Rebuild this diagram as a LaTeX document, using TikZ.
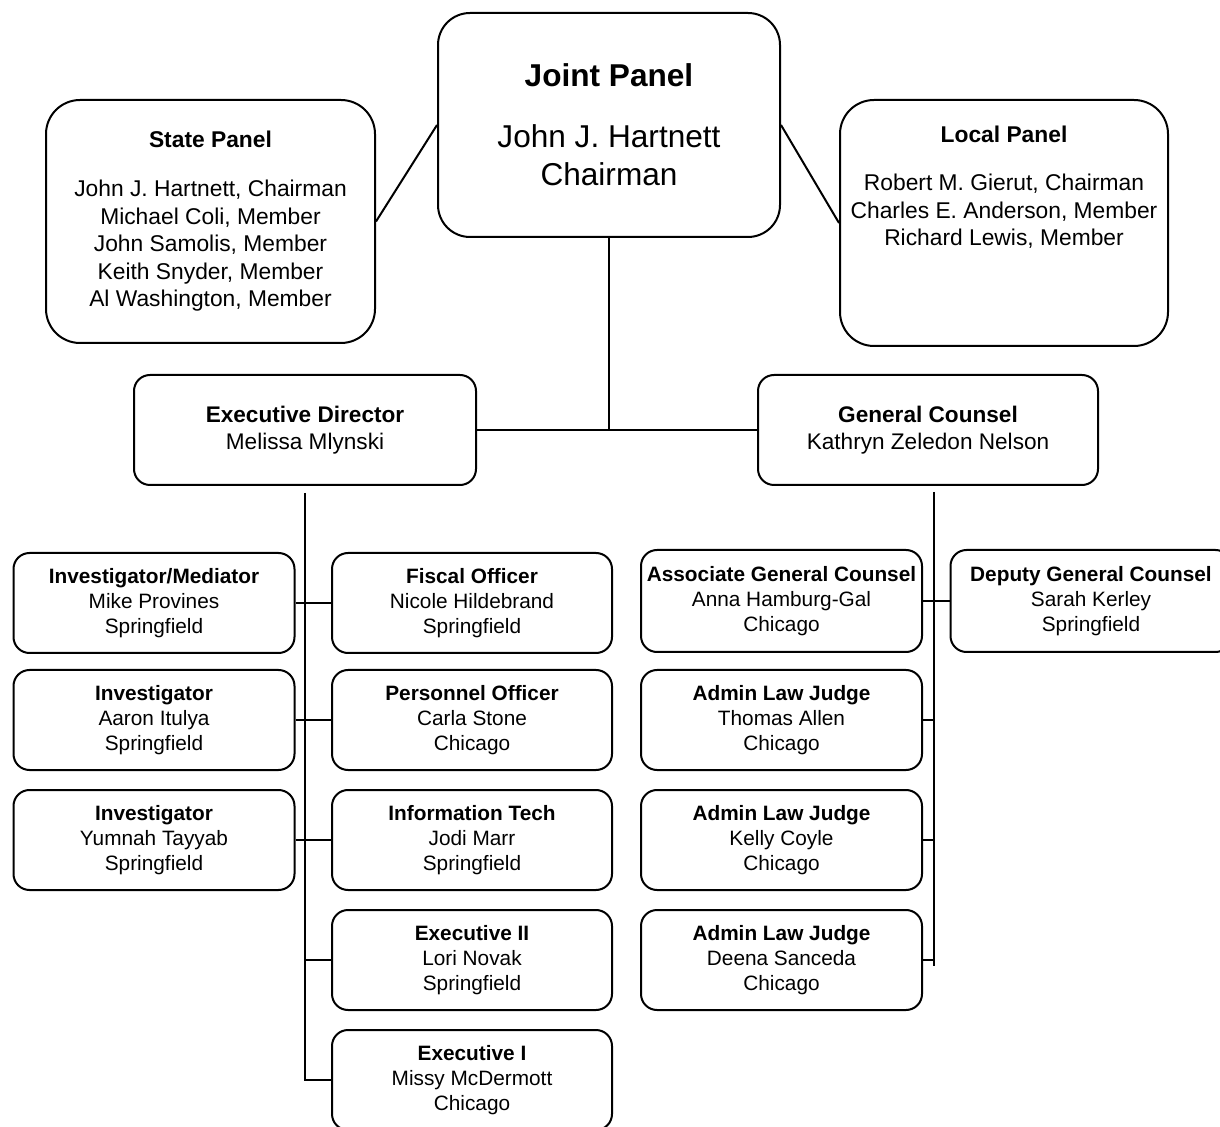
\documentclass[tikz,border=0pt]{standalone}
\usepackage{fontspec}
\setmainfont{Liberation Sans}
\usetikzlibrary{calc}

\tikzset{
  panel/.style={draw, line width=1pt, rounded corners=17pt, align=center, inner sep=0pt},
  head/.style={draw, line width=1pt, rounded corners=8pt, align=center, inner sep=0pt,
    minimum width=170pt, minimum height=55pt, font=\fontsize{11.3}{13.5}\selectfont},
  unit/.style={draw, line width=1pt, rounded corners=8pt, align=center, inner sep=0pt,
    minimum width=140.5pt, minimum height=50pt, font=\fontsize{10.4}{12.5}\selectfont},
  link/.style={line width=1pt}
}

\begin{document}
\begin{tikzpicture}[x=0.5pt, y=-0.5pt]
  \useasboundingbox (0,0) rectangle (1220,1127);

  % panels
  \node[panel, minimum width=171pt, minimum height=112pt, rounded corners=16pt,
    font=\fontsize{15.8}{19}\selectfont] (joint) at (609,125)
    {\textbf{Joint Panel}\\[11.5pt] John J. Hartnett\\ Chairman};
  \node[panel, minimum width=164.5pt, minimum height=121.5pt,
    font=\fontsize{11.4}{13.75}\selectfont] (state) at (210.5,221.5)
    {\textbf{State Panel}\\[10.75pt] John J. Hartnett, Chairman\\ Michael Coli, Member\\
     John Samolis, Member\\ Keith Snyder, Member\\ Al Washington, Member};
  \node[panel, minimum width=164pt, minimum height=123pt] (local) at (1004,223) {};
  \node[align=center, inner sep=0pt, font=\fontsize{11.4}{13.75}\selectfont] (localtext) at (1004,187)
    {\textbf{Local Panel}\\[10.5pt] Robert M. Gierut, Chairman\\ Charles E. Anderson, Member\\
     Richard Lewis, Member};

  % heads
  \node[head, minimum width=171pt] (exec) at (305,430) {\textbf{Executive Director}\\ Melissa Mlynski};
  \node[head] (gc) at (928,430) {\textbf{General Counsel}\\ Kathryn Zeledon Nelson};

  % executive director staff
  \node[unit] (invmed) at (154,603) {\textbf{Investigator/Mediator}\\ Mike Provines\\ Springfield};
  \node[unit] (inva) at (154,720) {\textbf{Investigator}\\ Aaron Itulya\\ Springfield};
  \node[unit] (invb) at (154,840) {\textbf{Investigator}\\ Yumnah Tayyab\\ Springfield};
  \node[unit, minimum width=140pt] (fiscal) at (472,603) {\textbf{Fiscal Officer}\\ Nicole Hildebrand\\ Springfield};
  \node[unit, minimum width=140pt] (personnel) at (472,720) {\textbf{Personnel Officer}\\ Carla Stone\\ Chicago};
  \node[unit, minimum width=140pt] (infotech) at (472,840) {\textbf{Information Tech}\\ Jodi Marr\\ Springfield};
  \node[unit, minimum width=140pt] (execii) at (472,960) {\textbf{Executive II}\\ Lori Novak\\ Springfield};
  \node[unit, minimum width=140pt] (execi) at (472,1080) {\textbf{Executive I}\\ Missy McDermott\\ Chicago};

  % general counsel staff
  \node[unit, minimum height=51pt] (agc) at (781.5,601) {\textbf{Associate General Counsel}\\ Anna Hamburg-Gal\\ Chicago};
  \node[unit, minimum height=51pt] (dgc) at (1091,601) {\textbf{Deputy General Counsel}\\ Sarah Kerley\\ Springfield};
  \node[unit] (alja) at (781.5,720) {\textbf{Admin Law Judge}\\ Thomas Allen\\ Chicago};
  \node[unit] (aljb) at (781.5,840) {\textbf{Admin Law Judge}\\ Kelly Coyle\\ Chicago};
  \node[unit] (aljc) at (781.5,960) {\textbf{Admin Law Judge}\\ Deena Sanceda\\ Chicago};

  \coordinate (hub) at (609,430);
  \coordinate (edtop) at (305,493);
  \coordinate (edbot) at (305,1080);
  \coordinate (gctop) at (934,492);
  \coordinate (gcbot) at (934,966);

  % connectors
  \draw[link] (state.east) -- (joint.west);
  \draw[link] (joint.east) -- (local.west);
  \draw[link] (joint.south) -- (hub);
  \draw[link] (exec.east) -- (gc.west);

  \draw[link] (edtop) -- (edbot) -- (execi.west);
  \draw[link] (invmed.east) -- (fiscal.west);
  \draw[link] (inva.east) -- (personnel.west);
  \draw[link] (invb.east) -- (infotech.west);
  \draw[link] (execii.west) -- (execii.west -| edtop);

  \draw[link] (gctop) -- (gcbot);
  \draw[link] (agc.east) -- (dgc.west);
  \foreach \j in {alja, aljb, aljc}
    \draw[link] (\j.east) -- (\j.east -| gctop);
\end{tikzpicture}
\end{document}
